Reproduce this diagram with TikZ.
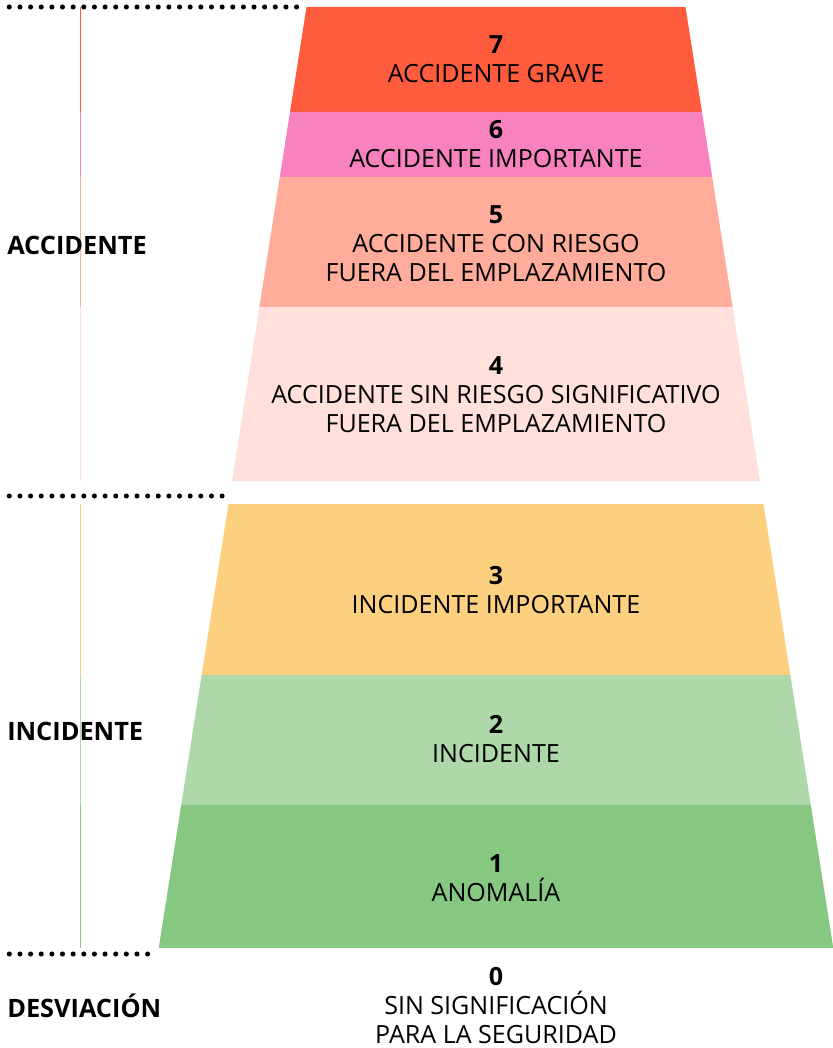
\documentclass[tikz,border=0pt]{standalone}
\usepackage{fontspec}
\setmainfont{Open Sans}
\definecolor{lvseven}{HTML}{FF5C3E}
\definecolor{lvsix}{HTML}{F782BE}
\definecolor{lvfive}{HTML}{FFAC9B}
\definecolor{lvfour}{HTML}{FFE0DA}
\definecolor{lvthree}{HTML}{FDD080}
\definecolor{lvtwo}{HTML}{AED8AA}
\definecolor{lvone}{HTML}{86C782}

\begin{document}
\begin{tikzpicture}[x=0.75pt,y=-0.75pt,
    band/.style={align=center,inner sep=0pt,font=\fontsize{18.8}{21.75}\selectfont},
    grp/.style={anchor=base west,inner sep=0pt,font=\fontsize{19}{22}\selectfont\bfseries}]
                      \useasboundingbox (0,0) rectangle (832,1048);
                      \foreach \t/\b/\c in {7/112/lvseven, 112/177/lvsix, 177/307/lvfive, 307/481/lvfour, 504/675/lvthree, 675/805/lvtwo, 805/948/lvone} {
                              \pgfmathsetmacro\wt{189.5+0.157*(\t-7)}
                              \pgfmathsetmacro\wb{189.5+0.157*(\b-7)}
                              \fill[\c] (496-\wt,\t) -- (496+\wt,\t) -- (496+\wb,\b) -- (496-\wb,\b) -- cycle;
                              \draw[\c, line width=0.9pt] (80.5,\t) -- (80.5,\b);
                          }
                      \foreach \n/\y in {27/7, 20/496, 13/954} {
                              \foreach \i in {0,...,\n} {
                                      \fill[black] (9.3+\i*10.64,\y) circle (1.9pt);
                                  }
                          }
                      \node[band] (lvl7) at (496,59) {\textbf{7}\\ACCIDENTE GRAVE};
                      \node[band] (lvl6) at (496,144) {\textbf{6}\\ACCIDENTE IMPORTANTE};
                      \node[band] (lvl5) at (496,243.5) {\textbf{5}\\ACCIDENTE CON RIESGO\\FUERA DEL EMPLAZAMIENTO};
                      \node[band] (lvl4) at (496,395) {\textbf{4}\\ACCIDENTE SIN RIESGO SIGNIFICATIVO\\FUERA DEL EMPLAZAMIENTO};
                      \node[band] (lvl3) at (496,590.5) {\textbf{3}\\INCIDENTE IMPORTANTE};
                      \node[band] (lvl2) at (496,739.5) {\textbf{2}\\INCIDENTE};
                      \node[band] (lvl1) at (496,878.5) {\textbf{1}\\ANOMALÍA};
                      \node[band] (lvl0) at (496,1005.5) {\textbf{0}\\SIN SIGNIFICACIÓN\\PARA LA SEGURIDAD};
                      \node[grp] (gacc) at (7,255) {ACCIDENTE};
                      \node[grp] (ginc) at (7,740) {INCIDENTE};
                      \node[grp] (gdes) at (7,1017) {DESVIACIÓN};

                  \end{tikzpicture}
\end{document}
